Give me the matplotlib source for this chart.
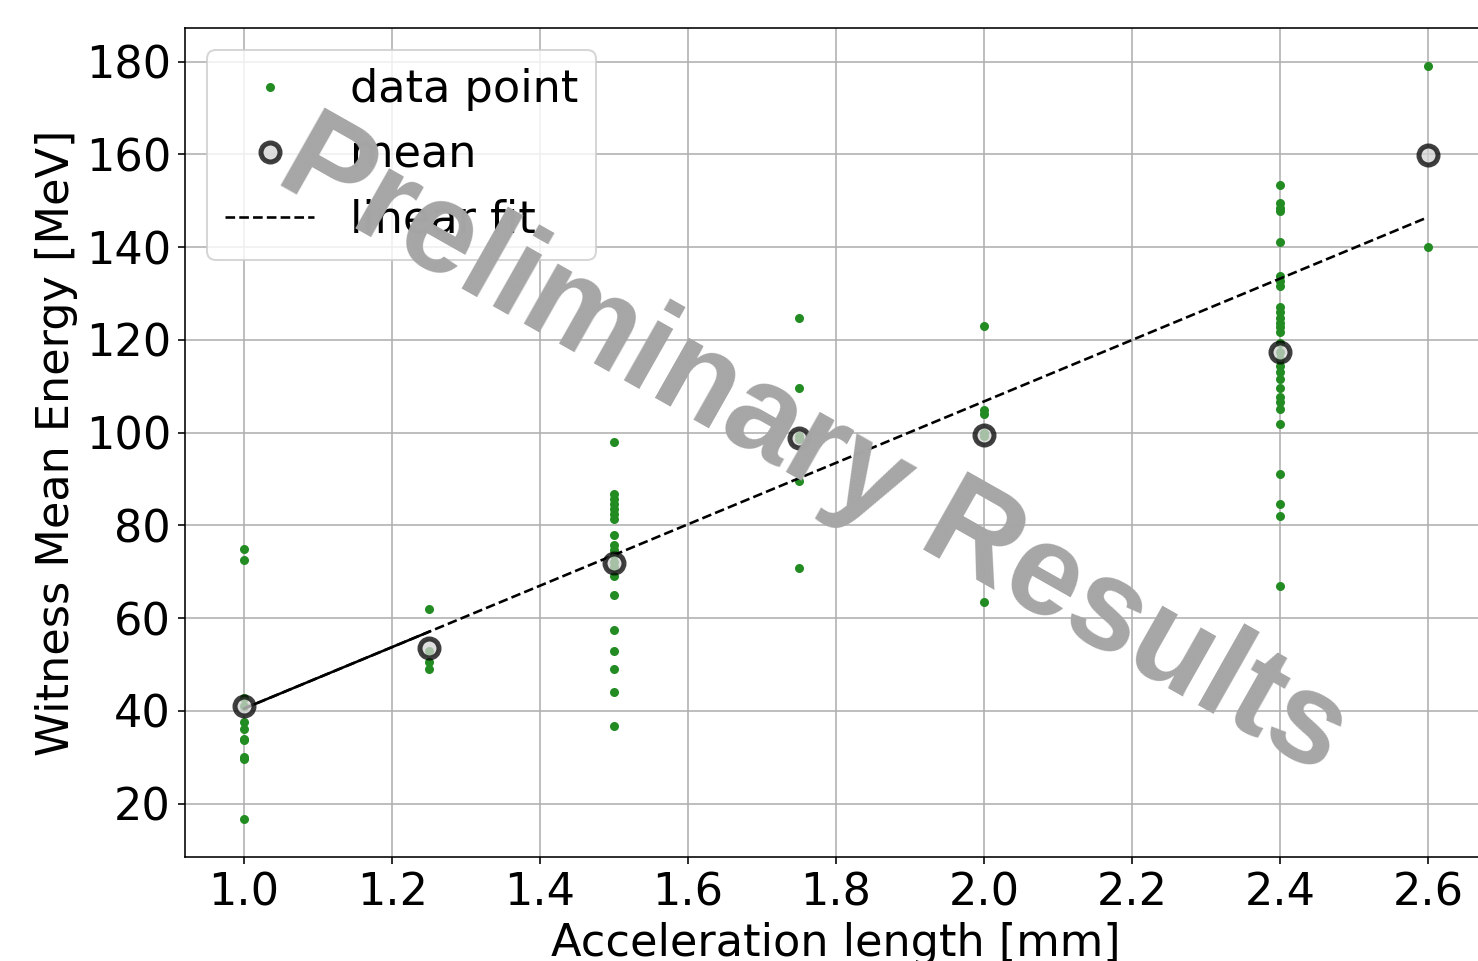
import numpy as np
import matplotlib
matplotlib.use("Agg")
import matplotlib.pyplot as plt

# ---- data ----
acc_lengths = [1.0, 1.25, 1.5, 1.75, 2.0, 2.4, 2.6]
energies_100 = [74.9, 72.5, 42.8, 41.0, 37.6, 36.0, 34.0, 33.6, 30.0, 29.5, 16.6]
energies_125 = [61.9, 53.0, 50.5, 49.1]
energies_150 = [98.0, 86.8, 85.7, 84.6, 83.5, 82.5, 81.4, 78.0, 75.8, 74.6,
                73.5, 72.0, 71.0, 69.0, 64.9, 57.5, 53.0, 49.1, 44.1, 36.7]
energies_175 = [124.7, 109.7, 99.3, 98.5, 89.6, 70.8]
energies_200 = [122.9, 104.8, 104.0, 100.0, 99.3, 63.4]
energies_240 = [153.3, 149.4, 148.5, 147.8, 141.0, 133.8, 132.7, 131.6, 127.0,
                125.9, 124.8, 123.7, 122.7, 121.6, 119.4, 117.4, 115.8, 114.4,
                113.0, 111.5, 109.6, 107.6, 106.5, 105.1, 101.8, 91.1, 84.6,
                82.1, 67.0]
energies_260 = [179.1, 140.1]
mean_energies = [41.0, 53.6, 71.9, 98.8, 99.5, 117.4, 159.8]
fit_slope = 66.2
fit_intercept = -25.7

groups = [energies_100, energies_125, energies_150, energies_175,
          energies_200, energies_240, energies_260]

plt.rcParams['font.family'] = ['DejaVu Sans']
fig = plt.figure(figsize=(1478 / 144, 961 / 144), dpi=144)
ax = fig.add_axes([185 / 1478, 1 - 857 / 961, (1487 - 185) / 1478, (857 - 28) / 961])

xs = np.concatenate([[x] * len(g) for x, g in zip(acc_lengths, groups)])
ys = np.concatenate(groups)

ax.plot(xs, ys, '.', color='forestgreen', markersize=7, label='data point', zorder=3)
ax.plot(acc_lengths, mean_energies, 'o', linestyle='none', markersize=9.5,
        markerfacecolor='lightgray', markeredgecolor='k', markeredgewidth=2.5,
        alpha=0.75, label='mean', zorder=4)

xfit = np.array([acc_lengths[0], acc_lengths[-1]])
ax.plot(xfit, fit_slope * xfit + fit_intercept, 'k--', lw=1.3, label='linear fit', zorder=3.5)
xseg = np.array([acc_lengths[0], acc_lengths[1]])
ax.plot(xseg, fit_slope * xseg + fit_intercept, 'k-', lw=1.3, zorder=3.5)

ax.grid(True)
ax.set_xticks([1.0, 1.2, 1.4, 1.6, 1.8, 2.0, 2.2, 2.4, 2.6])
ax.set_yticks([20, 40, 60, 80, 100, 120, 140, 160, 180])
ax.tick_params(labelsize=22.3)
ax.set_xlabel('Acceleration length [mm]', fontsize=22.3)
ax.set_ylabel('Witness Mean Energy [MeV]', fontsize=22.3)
ax.legend(loc='upper left', fontsize=22.3)

fig.text(813 / 1478, 1 - 449 / 961, 'Preliminary Results', fontsize=64.5,
         fontweight='bold', family='Liberation Sans', color='#a6a6a6',
         rotation=-29.5, ha='center', va='center', zorder=10)

fig.savefig('out.png', dpi=144)
